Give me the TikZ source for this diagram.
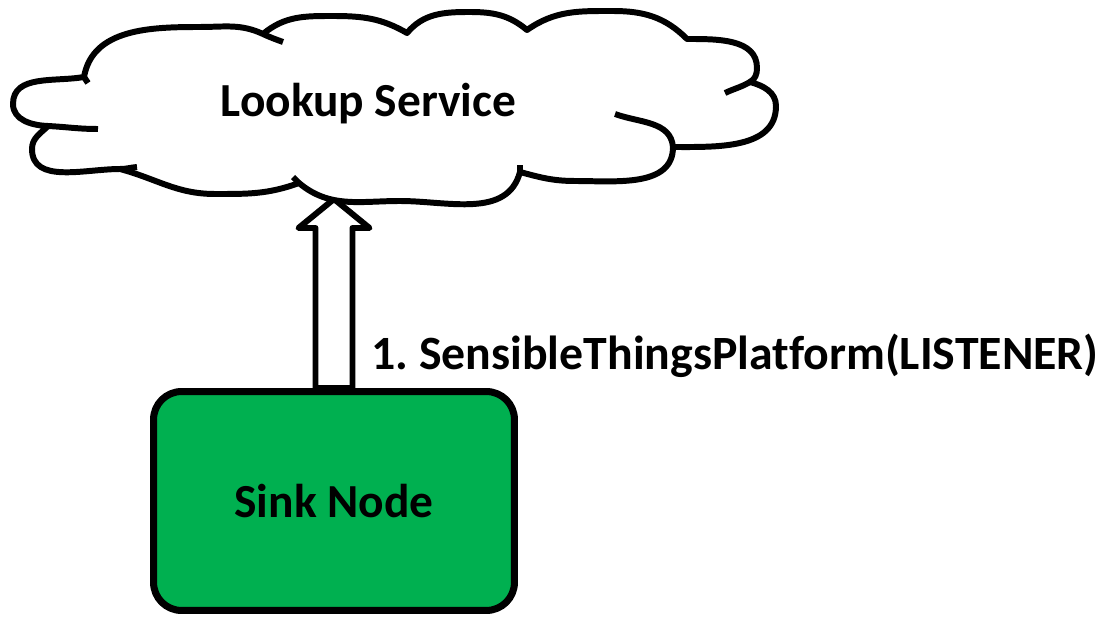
\documentclass[tikz,border=0pt]{standalone}
\usepackage{fontspec}
\setmainfont{Carlito}[Ligatures=NoCommon]
\usetikzlibrary{calc}
\frenchspacing
\definecolor{sinkgreen}{HTML}{00B050}
\tikzset{
  outline/.style={draw=black, line width=3.4pt, line join=round},
  cloudtail/.style={draw=black, line width=3.4pt},
  labeltext/.style={font=\fontsize{27}{32}\selectfont\bfseries, inner sep=0pt},
  calltext/.style={font=\fontsize{27.2}{32}\selectfont\bfseries, inner sep=0pt},
  sinkbox/.style={draw=black, line width=4pt, fill=sinkgreen, rounded corners=16pt,
    minimum width=7.22cm, minimum height=4.38cm, labeltext},
}
\begin{document}
\begin{tikzpicture}[x=0.02cm, y=0.02cm]
\useasboundingbox (0,0) rectangle (1105,-621);

% sink node box
\node[sinkbox] (sink) at (334,-501) {Sink Node};

% hollow block arrow from the sink node up to the cloud
\coordinate (tip) at (334,-199);
\draw[outline, fill=white]
  ($(sink.north)+(-18.5,0)$) -- ($(tip)+(-18.5,-29)$) -- ($(tip)+(-35.5,-29)$)
  -- (tip) -- ($(tip)+(35.5,-29)$) -- ($(tip)+(18.5,-29)$)
  -- ($(sink.north)+(18.5,0)$) -- cycle;

% cloud outline
\path[outline, fill=white]
 (48,-126) to[out=178,in=270] (13,-104)
 to[out=90,in=190] (84,-77)
 to[out=80,in=180] (200,-27)
 to[out=0,in=155] (263,-34)
 to[out=40,in=180] (333,-16)
 to[out=0,in=150] (407,-33)
 to[out=50,in=180] (470,-12)
 to[out=0,in=140] (527,-30)
 to[out=35,in=180] (613,-11)
 to[out=0,in=135] (687,-39)
 to[out=0,in=90] (757,-68)
 to[out=270,in=30] (750,-82)
 to[out=345,in=90] (776,-106)
 to[out=270,in=0] (673,-147)
 to[out=270,in=0] (575,-181)
 to[out=180,in=345] (520,-172)
 to[out=255,in=0] (400,-201)
 to[out=180,in=320] (299,-183)
 to[out=200,in=0] (215,-194)
 to[out=180,in=345] (120,-169)
 to[out=180,in=270] (32,-149)
 to[out=90,in=225] (48,-126) -- cycle;

% inner tails of the cloud lobes
\draw[cloudtail] (48,-126) to[out=-3,in=180] (98,-129);
\draw[cloudtail] (84,-77) -- (88,-83);
\draw[cloudtail] (263,-34) to[out=-25,in=160] (283,-42);
\draw[cloudtail] (750,-82) to[out=210,in=25] (725,-93);
\draw[cloudtail] (673,-147) to[out=95,in=-20] (615,-114);
\draw[cloudtail] (520,-172) -- (520,-165);
\draw[cloudtail] (299,-183) to[out=140,in=-40] (293,-177);
\draw[cloudtail] (120,-169) to[out=0,in=185] (137,-167);

\node[labeltext, anchor=base] (lookup) at (368.5,-117) {Lookup Service};
\node[calltext, anchor=base west] (call) at (371,-370) {1. SensibleThingsPlatform(LISTENER)};
\end{tikzpicture}
\end{document}
